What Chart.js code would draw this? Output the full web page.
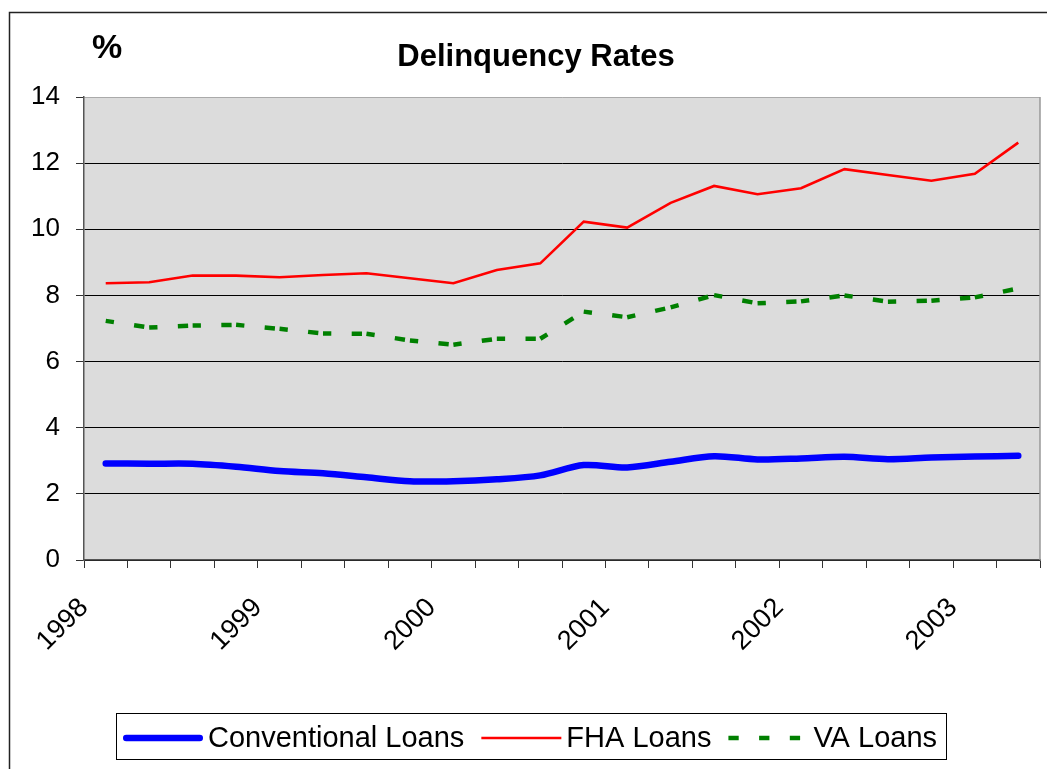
<!DOCTYPE html>
<html>
<head>
<meta charset="utf-8">
<script src="https://cdn.jsdelivr.net/npm/chart.js@4.4.1/dist/chart.umd.min.js"></script>
<style>
  html, body { margin: 0; padding: 0; background: #fff; }
  #wrap { width: 1047px; height: 769px; }
</style>
</head>
<body>
<div id="wrap"><canvas id="grafica" width="1047" height="769"></canvas></div>
<script>
// Trimestres 1998 T1 - 2003 T2
const trimestres = [
  "1998 Q1", "1998 Q2", "1998 Q3", "1998 Q4",
  "1999 Q1", "1999 Q2", "1999 Q3", "1999 Q4",
  "2000 Q1", "2000 Q2", "2000 Q3", "2000 Q4",
  "2001 Q1", "2001 Q2", "2001 Q3", "2001 Q4",
  "2002 Q1", "2002 Q2", "2002 Q3", "2002 Q4",
  "2003 Q1", "2003 Q2"
];
const etiquetasAnio = ["1998", "1999", "2000", "2001", "2002", "2003"];

const convencionales = [2.92, 2.91, 2.91, 2.82, 2.69, 2.62, 2.50, 2.38, 2.38, 2.44, 2.56,
  2.87, 2.80, 2.97, 3.14, 3.04, 3.07, 3.12, 3.05, 3.10, 3.13, 3.15];
const fha = [8.37, 8.40, 8.60, 8.60, 8.55, 8.62, 8.67, 8.52, 8.37, 8.77, 8.97,
  10.23, 10.05, 10.80, 11.31, 11.06, 11.24, 11.82, 11.64, 11.47, 11.68, 12.62];
const va = [7.23, 7.03, 7.09, 7.11, 6.99, 6.85, 6.84, 6.64, 6.51, 6.69, 6.69,
  7.51, 7.34, 7.64, 8.01, 7.76, 7.82, 8.00, 7.81, 7.84, 7.94, 8.21];

const FUENTE = "'Liberation Sans', Arial, sans-serif";
Chart.defaults.font.family = FUENTE;
Chart.defaults.color = "#000";

// cada trimestre va al centro de su casilla
const puntos = serie => serie.map((v, i) => ({ x: i + 0.5, y: v }));

const guionVA = [10.3, 20.4];

// fondo, marco, titulos y leyenda con recuadro
const decoracion = {
  id: "decoracion",
  beforeDraw(chart) {
    const { ctx, chartArea: a } = chart;
    ctx.save();
    ctx.fillStyle = "#fff";
    ctx.fillRect(0, 0, chart.width, chart.height);
    ctx.strokeStyle = "#222";
    ctx.lineWidth = 1.5;
    ctx.beginPath();
    ctx.moveTo(9.5, chart.height + 2);
    ctx.lineTo(9.5, 12.5);
    ctx.lineTo(chart.width + 2, 12.5);
    ctx.stroke();
    ctx.fillStyle = "#dcdcdc";
    ctx.fillRect(a.left, a.top, a.right - a.left, a.bottom - a.top);
    ctx.restore();
  },
  afterDraw(chart) {
    const { ctx, chartArea: a } = chart;
    ctx.save();
    ctx.strokeStyle = "#999";
    ctx.lineWidth = 1.5;
    ctx.beginPath();
    ctx.moveTo(a.right, a.top);
    ctx.lineTo(a.right, a.bottom);
    ctx.stroke();

    ctx.fillStyle = "#000";
    ctx.textBaseline = "alphabetic";
    ctx.font = "bold 34px " + FUENTE;
    ctx.textAlign = "left";
    ctx.fillText("%", 92, 58);
    ctx.font = "bold 31px " + FUENTE;
    ctx.textAlign = "center";
    ctx.fillText("Delinquency Rates", 536, 66);

    // leyenda
    ctx.font = "29px " + FUENTE;
    ctx.textAlign = "left";
    ctx.textBaseline = "middle";
    const yL = 738;
    const items = chart.data.datasets.map(ds => ({ ds, w: ctx.measureText(ds.label).width }));
    const total = items.reduce((s, it) => s + 80 + 5 + it.w, 0) + 17 * (items.length - 1);
    let x = 530 - total / 2;
    const cajaIzq = x - 7;
    items.forEach(({ ds, w }, i) => {
      ctx.save();
      ctx.strokeStyle = ds.borderColor;
      ctx.lineWidth = ds.borderWidth;
      ctx.lineCap = ds.borderCapStyle || "butt";
      ctx.setLineDash(ds.borderDash || []);
      const pad = ctx.lineCap === "round" ? ds.borderWidth / 2 : 0;
      ctx.beginPath();
      ctx.moveTo(x + pad, yL);
      ctx.lineTo(x + 80 - pad, yL);
      ctx.stroke();
      ctx.restore();
      x += 85;
      ctx.fillText(ds.label, x, yL + 1);
      x += w + (i < items.length - 1 ? 17 : 0);
    });
    ctx.strokeStyle = "#000";
    ctx.lineWidth = 1;
    ctx.strokeRect(Math.round(cajaIzq) + 0.5, 713.5, Math.round(x + 9 - cajaIzq), 46);
    ctx.restore();
  }
};

const ctx = document.getElementById("grafica").getContext("2d");
new Chart(ctx, {
  type: "line",
  data: {
    datasets: [
      {
        label: "Conventional Loans",
        data: puntos(convencionales),
        borderColor: "#0000ff",
        borderWidth: 6.5,
        borderCapStyle: "round",
        borderJoinStyle: "round",
        tension: 0.3,
        pointRadius: 0,
      },
      {
        label: "FHA Loans",
        data: puntos(fha),
        borderColor: "#ff0000",
        borderWidth: 2.6,
        tension: 0,
        pointRadius: 0,
      },
      {
        label: "VA Loans",
        data: puntos(va),
        borderColor: "#008000",
        borderWidth: 4.5,
        borderDash: guionVA,
        borderCapStyle: "butt",
        tension: 0,
        pointRadius: 0,
        // reiniciar el patron de guiones en cada tramo, como Excel
        segment: {
          borderDash: () => guionVA,
          borderDashOffset: c => (c.p0DataIndex % 2 ? 2 : 2.01),
        },
      },
    ],
  },
  options: {
    responsive: false,
    animation: false,
    devicePixelRatio: 1,
    layout: { padding: { top: 97, right: 7, bottom: 79, left: 0 } },
    plugins: {
      legend: { display: false },
      title: { display: false },
      tooltip: { enabled: false },
    },
    scales: {
      x: {
        type: "linear",
        min: 0,
        max: trimestres.length,
        afterFit: s => { s.height = 130; s.paddingLeft = 0; s.paddingRight = 0; },
        ticks: {
          stepSize: 1,
          autoSkip: false,
          minRotation: 45,
          maxRotation: 45,
          padding: 24,
          font: { size: 27 },
          color: "#000",
          callback: v => (v % 4 === 0 && etiquetasAnio[v / 4] ? etiquetasAnio[v / 4] : ""),
        },
        grid: { drawOnChartArea: false, drawTicks: true, tickLength: 8, tickColor: "#333", lineWidth: 1 },
        border: { color: "#555", width: 1.5 },
      },
      y: {
        min: 0,
        max: 14,
        afterFit: s => { s.width = 84; s.paddingTop = 0; s.paddingBottom = 0; },
        ticks: { stepSize: 2, padding: 16, font: { size: 26 }, color: "#000" },
        grid: {
          color: c => (c.tick && c.tick.value === 14 ? "#aaa" : "#000"),
          tickColor: "#333",
          tickLength: 8,
          lineWidth: 1,
        },
        border: { color: "#555", width: 1.5 },
      },
    },
  },
  plugins: [decoracion],
});
</script>
</body>
</html>
